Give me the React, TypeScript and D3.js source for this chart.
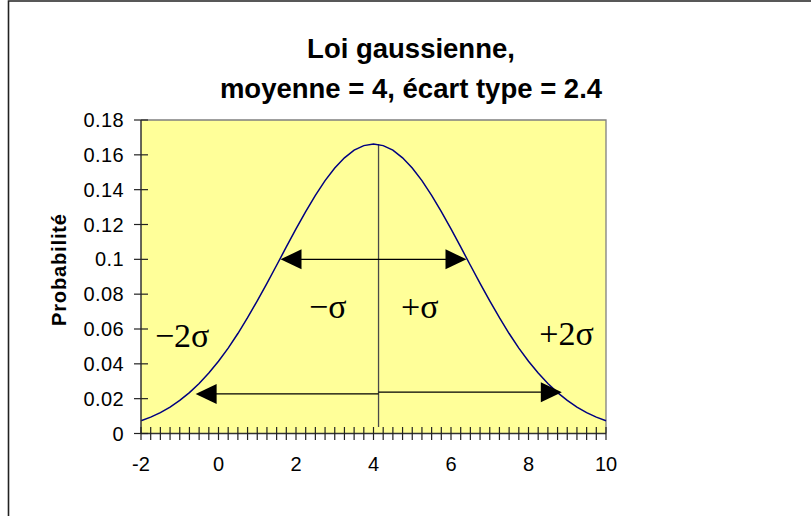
import React from "react";
import * as d3 from "d3";

// Normal density, mean 4, standard deviation 2.4, sampled every 0.25 from -2 to 10
const xValues: number[] = [
  -2, -1.75, -1.5, -1.25, -1, -0.75, -0.5, -0.25, 0, 0.25, 0.5, 0.75, 1, 1.25, 1.5, 1.75,
  2, 2.25, 2.5, 2.75, 3, 3.25, 3.5, 3.75, 4, 4.25, 4.5, 4.75, 5, 5.25, 5.5, 5.75,
  6, 6.25, 6.5, 6.75, 7, 7.25, 7.5, 7.75, 8, 8.25, 8.5, 8.75, 9, 9.25, 9.5, 9.75, 10,
];
const probValues: number[] = [
  0.0073, 0.0094, 0.012, 0.0152, 0.019, 0.0235, 0.0287, 0.0347, 0.0415, 0.049, 0.0574,
  0.0665, 0.0761, 0.0862, 0.0966, 0.1071, 0.1175, 0.1274, 0.1367, 0.1452, 0.1524, 0.1583,
  0.1627, 0.1653, 0.1662, 0.1653, 0.1627, 0.1583, 0.1524, 0.1452, 0.1367, 0.1274, 0.1175,
  0.1071, 0.0966, 0.0862, 0.0761, 0.0665, 0.0574, 0.049, 0.0415, 0.0347, 0.0287, 0.0235,
  0.019, 0.0152, 0.012, 0.0094, 0.0073,
];
const xTickLabels: number[] = [-2, 0, 2, 4, 6, 8, 10];
const yTickLabels: number[] = [0, 0.02, 0.04, 0.06, 0.08, 0.1, 0.12, 0.14, 0.16, 0.18];
const titleLines: string[] = ["Loi gaussienne,", "moyenne = 4, écart type = 2.4"];
const yTitle = "Probabilité";

// annotation geometry in data units
const meanLine = { x: 4.13, y0: 0.0037, y1: 0.1662 };
const oneSigmaArrow = { x0: 1.6, x1: 6.4, y: 0.1 };
const twoSigmaArrow = { x0: -0.59, xm: 4.13, x1: 8.86, yLeft: 0.0227, yRight: 0.0237 };
const sigmaLabels = [
  { text: "\u2212\u03c3", x: 2.335, y: 0.0663 },
  { text: "+\u03c3", x: 4.71, y: 0.0663 },
  { text: "\u22122\u03c3", x: -1.64, y: 0.0497 },
  { text: "+2\u03c3", x: 8.28, y: 0.0508 },
];

const W = 811;
const H = 516;
const plot = { left: 141, right: 606, top: 120, bottom: 433.5 };

export default function App() {
  const x = d3.scaleLinear().domain([-2, 10]).range([plot.left, plot.right]);
  const y = d3.scaleLinear().domain([0, 0.18]).range([plot.bottom, plot.top]);

  const points = xValues.map((v, i) => [v, probValues[i]] as [number, number]);
  const line = d3
    .line<[number, number]>()
    .x((d) => x(d[0]))
    .y((d) => y(d[1]));

  const minorTicks = d3.range(0, 49).map((i) => -2 + i * 0.25);

  const sans = "'Liberation Sans', Arial, sans-serif";
  const serif = "'Liberation Serif', 'Times New Roman', serif";

  const arrowHead = (tipX: number, tipY: number, dir: number) => {
    const len = 21;
    const half = 10;
    return `M${tipX},${tipY} L${tipX - dir * len},${tipY - half} L${tipX - dir * len},${tipY + half} Z`;
  };

  return (
    <svg
      width={W}
      height={H}
      style={{ position: "absolute", left: 0, top: 0, background: "#fff" }}
    >
      {/* chart frame */}
      <path d={`M8.5,${H + 5} V1 H${W + 5}`} fill="none" stroke="#222" strokeWidth={1.6} />

      {/* title */}
      {titleLines.map((t, i) => (
        <text
          key={t}
          x={411}
          y={58 + i * 40}
          textAnchor="middle"
          fontFamily={sans}
          fontWeight="bold"
          fontSize={27.5}
        >
          {t}
        </text>
      ))}

      {/* plot area */}
      <rect
        x={plot.left}
        y={plot.top}
        width={plot.right - plot.left}
        height={plot.bottom - plot.top}
        fill="#FFFF99"
      />
      <path
        d={`M${plot.left},${plot.top} H${plot.right} V${plot.bottom}`}
        fill="none"
        stroke="#808080"
        strokeWidth={1.3}
      />

      {/* mean line */}
      <line
        x1={x(meanLine.x)}
        x2={x(meanLine.x)}
        y1={y(meanLine.y1)}
        y2={y(meanLine.y0)}
        stroke="#4a4a4a"
        strokeWidth={1.3}
      />

      {/* density curve */}
      <path d={line(points) ?? ""} fill="none" stroke="#000080" strokeWidth={1.5} />

      {/* ±1 sigma arrow */}
      <line
        x1={x(oneSigmaArrow.x0) + 15}
        x2={x(oneSigmaArrow.x1) - 15}
        y1={y(oneSigmaArrow.y)}
        y2={y(oneSigmaArrow.y)}
        stroke="#000"
        strokeWidth={1.3}
      />
      <path d={arrowHead(x(oneSigmaArrow.x0), y(oneSigmaArrow.y), -1)} fill="#000" />
      <path d={arrowHead(x(oneSigmaArrow.x1), y(oneSigmaArrow.y), 1)} fill="#000" />

      {/* ±2 sigma arrow */}
      <line
        x1={x(twoSigmaArrow.x0) + 15}
        x2={x(twoSigmaArrow.xm)}
        y1={y(twoSigmaArrow.yLeft)}
        y2={y(twoSigmaArrow.yLeft)}
        stroke="#000"
        strokeWidth={1.3}
      />
      <line
        x1={x(twoSigmaArrow.xm)}
        x2={x(twoSigmaArrow.x1) - 15}
        y1={y(twoSigmaArrow.yRight)}
        y2={y(twoSigmaArrow.yRight)}
        stroke="#000"
        strokeWidth={1.3}
      />
      <path d={arrowHead(x(twoSigmaArrow.x0), y(twoSigmaArrow.yLeft), -1)} fill="#000" />
      <path d={arrowHead(x(twoSigmaArrow.x1), y(twoSigmaArrow.yRight), 1)} fill="#000" />

      {/* sigma labels */}
      {sigmaLabels.map((s) => (
        <text key={s.text} x={x(s.x)} y={y(s.y)} fontFamily={serif} fontSize={34}>
          {s.text}
        </text>
      ))}

      {/* axes */}
      <line x1={plot.left} x2={plot.left} y1={plot.top} y2={plot.bottom} stroke="#333" strokeWidth={1.5} />
      <line x1={plot.left} x2={plot.right} y1={plot.bottom} y2={plot.bottom} stroke="#333" strokeWidth={1.5} />

      {yTickLabels.map((v) => (
        <g key={v}>
          <line x1={plot.left - 7} x2={plot.left + 7} y1={y(v)} y2={y(v)} stroke="#222" strokeWidth={1.2} />
          <text
            x={124}
            y={y(v) + 7}
            textAnchor="end"
            fontFamily={sans}
            fontSize={20}
            letterSpacing={0.4}
          >
            {String(v)}
          </text>
        </g>
      ))}

      {minorTicks.map((v) => (
        <line
          key={v}
          x1={x(v)}
          x2={x(v)}
          y1={plot.bottom - 6.5}
          y2={plot.bottom + 6.5}
          stroke="#222"
          strokeWidth={1.2}
        />
      ))}
      {xTickLabels.map((v) => (
        <text key={v} x={x(v)} y={471} textAnchor="middle" fontFamily={sans} fontSize={20}>
          {String(v)}
        </text>
      ))}

      {/* y axis title */}
      <text
        transform={`translate(66,270) rotate(-90)`}
        textAnchor="middle"
        fontFamily={sans}
        fontWeight="bold"
        fontSize={20}
        textLength={112}
        lengthAdjust="spacing"
      >
        {yTitle}
      </text>
    </svg>
  );
}
